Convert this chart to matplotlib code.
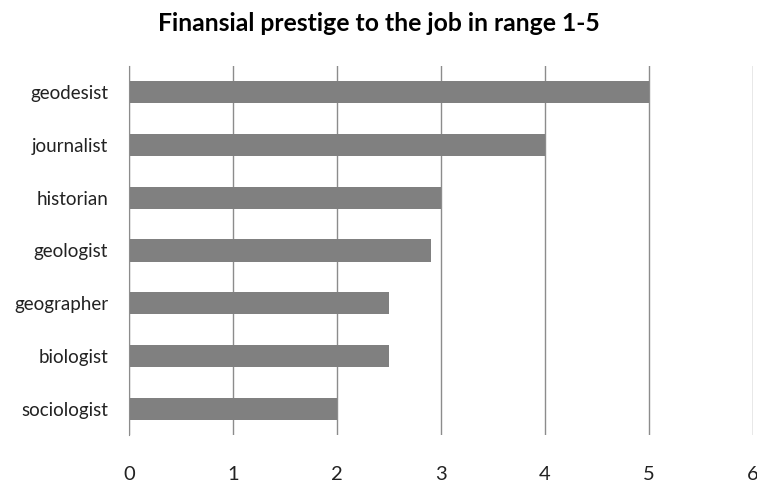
import matplotlib
matplotlib.use("Agg")
import matplotlib.pyplot as plt

categories = ["geodesist", "journalist", "historian", "geologist", "geographer", "biologist", "sociologist"]
values = [5, 4, 3, 2.9, 2.5, 2.5, 2]
xticks = [0, 1, 2, 3, 4, 5, 6]

plt.rcParams['font.family'] = ['Lato', 'DejaVu Sans']

fig = plt.figure(figsize=(7.57, 4.87), dpi=100)
ax = fig.add_axes([0.1704, 0.1068, 0.8243, 0.7577])

y = list(range(len(categories)))[::-1]
ax.barh(y, values, height=0.42, color="#808080", zorder=3)
ax.set_xlim(0, 6)
ax.set_ylim(-0.5, len(categories) - 0.5)
ax.set_xticks(xticks)
ax.set_xticklabels([str(t) for t in xticks], fontsize=14.5)
ax.set_yticks(y)
ax.set_yticklabels(categories, fontsize=13.5)
ax.tick_params(axis='both', length=0, colors="#222222")
ax.tick_params(axis='x', pad=22)
ax.tick_params(axis='y', pad=15)
ax.grid(axis='x', color="#8c8c8c", linewidth=1, zorder=0)
for s in ["top", "right", "bottom"]:
    ax.spines[s].set_visible(False)
ax.spines["left"].set_color("#8c8c8c")
ax.spines["left"].set_zorder(4)

fig.suptitle("Finansial prestige to the job in range 1-5", fontsize=17.8, fontweight="bold", y=0.975)
fig.savefig("out.png", dpi=100)
